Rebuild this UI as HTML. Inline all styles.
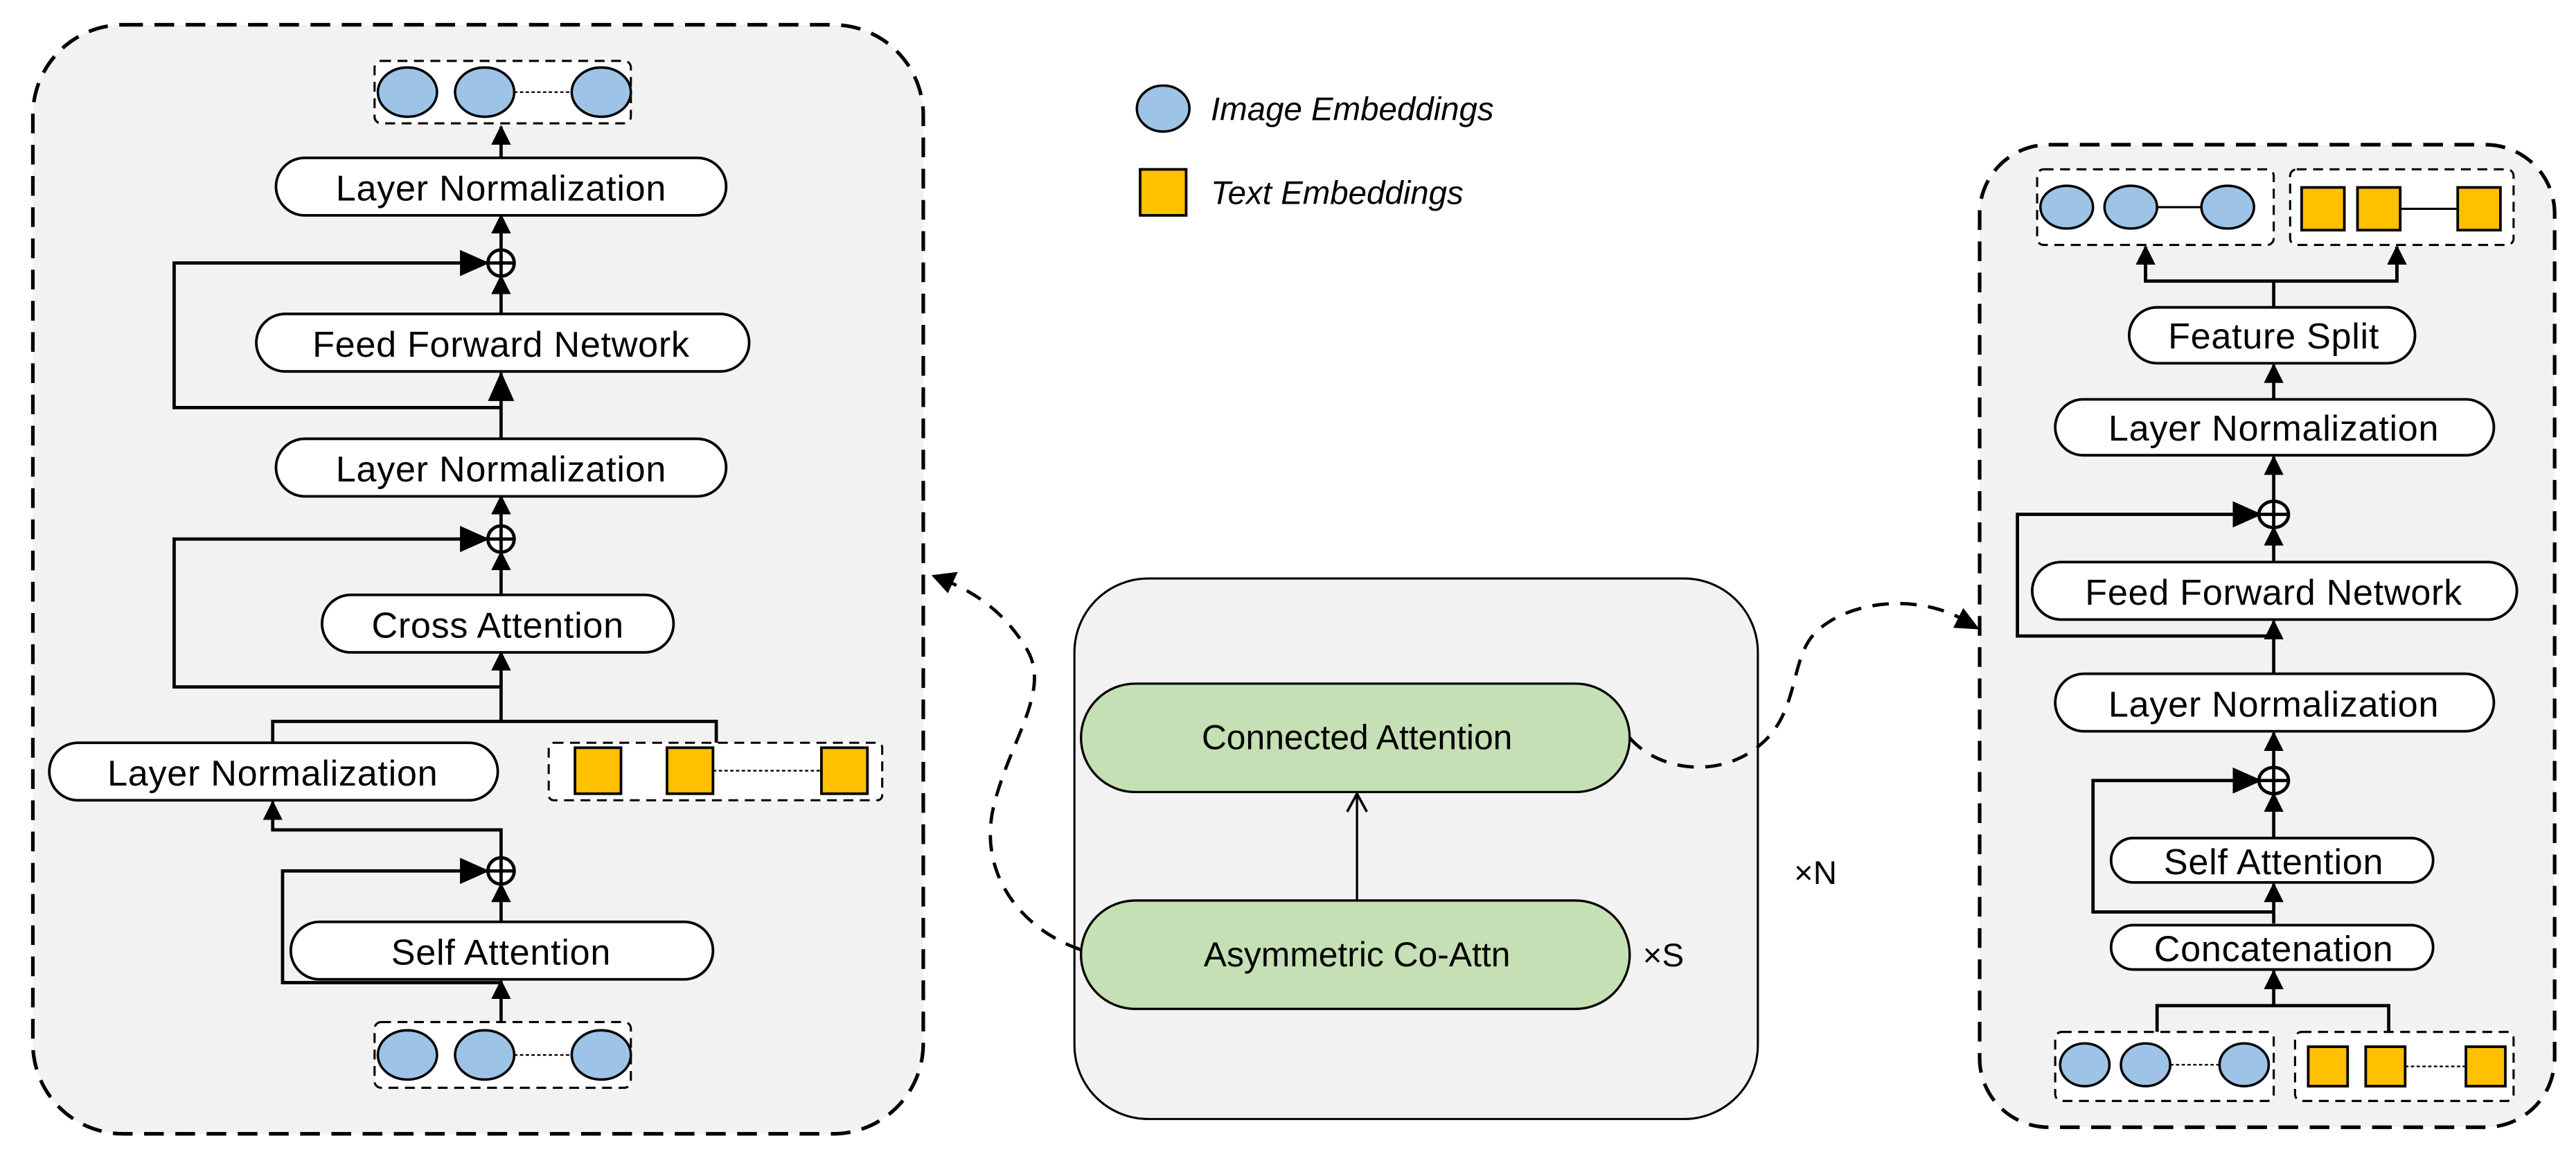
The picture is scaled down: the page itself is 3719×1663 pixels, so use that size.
<!DOCTYPE html>
<html><head><meta charset="utf-8"><style>
html,body{margin:0;padding:0;background:#fff;width:3719px;height:1663px;overflow:hidden}
svg{display:block}
text{font-family:"Liberation Sans",Arial,sans-serif;fill:#000}
</style></head><body>
<svg width="3719" height="1663" viewBox="0 0 1568 701" xmlns="http://www.w3.org/2000/svg">
<defs>
<marker id="ah" markerWidth="12" markerHeight="12" refX="11" refY="6" orient="auto" markerUnits="userSpaceOnUse"><path d="M0,0 L12,6 L0,12 z" fill="#000"/></marker>
<marker id="ahb" markerWidth="18" markerHeight="16" refX="17" refY="8" orient="auto" markerUnits="userSpaceOnUse"><path d="M0,0 L18,8 L0,16 z" fill="#000"/></marker>
<marker id="aho" markerWidth="14" markerHeight="14" refX="12" refY="7" orient="auto" markerUnits="userSpaceOnUse"><path d="M1,1 L12,7 L1,13" fill="none" stroke="#000" stroke-width="1.5"/></marker>
</defs>
<g stroke="#000" fill="none">
<rect x="20" y="15" width="542" height="675" rx="55" fill="#f2f2f2" stroke-width="2.2" stroke-dasharray="12,7"/>
<rect x="228" y="37" width="156" height="38" rx="4" fill="#fff" stroke-width="1.3" stroke-dasharray="6,4"/>
<g fill="#9dc3e6" stroke-width="1.5"><ellipse cx="248" cy="56" rx="18" ry="15"/><ellipse cx="295" cy="56" rx="18" ry="15"/><ellipse cx="366" cy="56" rx="18" ry="15"/></g>
<line x1="313" y1="56" x2="348" y2="56" stroke-width="1" stroke-dasharray="2,1.5"/>
<g stroke-width="2">
<line x1="305" y1="96" x2="305" y2="77" marker-end="url(#ah)"/>
<line x1="305" y1="152" x2="305" y2="131" marker-end="url(#ah)"/>
<line x1="305" y1="191" x2="305" y2="168" marker-end="url(#ah)"/>
<polyline points="305,248 106,248 106,160 297,160" marker-end="url(#ahb)"/>
<line x1="305" y1="267" x2="305" y2="227" marker-end="url(#ahb)"/>
<line x1="305" y1="320" x2="305" y2="302" marker-end="url(#ah)"/>
<line x1="305" y1="362" x2="305" y2="336" marker-end="url(#ah)"/>
<polyline points="305,418 106,418 106,328 297,328" marker-end="url(#ahb)"/>
<line x1="305" y1="439" x2="305" y2="397" marker-end="url(#ah)"/>
<polyline points="166,452 166,439 436,439 436,452"/>
<polyline points="305,522 305,505 166,505 166,488" marker-end="url(#ah)"/>
<polyline points="305,598 172,598 172,530 297,530" marker-end="url(#ahb)"/>
<line x1="305" y1="561" x2="305" y2="538" marker-end="url(#ah)"/>
<line x1="305" y1="622" x2="305" y2="597" marker-end="url(#ah)"/>
</g>
<g stroke-width="2" fill="#fff">
<circle cx="305" cy="160" r="8"/><circle cx="305" cy="328" r="8"/><circle cx="305" cy="530" r="8"/>
</g>
<g stroke-width="2"><path d="M297,160h16M305,152v16M297,328h16M305,320v16M297,530h16M305,522v16"/></g>
<g fill="#fff" stroke-width="1.6">
<rect x="168" y="96" width="274" height="35" rx="17.5"/>
<rect x="156" y="191" width="300" height="35" rx="17.5"/>
<rect x="168" y="267" width="274" height="35" rx="17.5"/>
<rect x="196" y="362" width="214" height="35" rx="17.5"/>
<rect x="30" y="452" width="273" height="35" rx="17.5"/>
<rect x="177" y="561" width="257" height="35" rx="17.5"/>
</g>
<rect x="334" y="452" width="203" height="35" rx="3" fill="#fff" stroke-width="1.3" stroke-dasharray="6,4"/>
<g fill="#ffc000" stroke-width="1.6"><rect x="350" y="455" width="28" height="28"/><rect x="406" y="455" width="28" height="28"/><rect x="500" y="455" width="28" height="28"/></g>
<line x1="434" y1="469" x2="500" y2="469" stroke-width="1" stroke-dasharray="2,1.5"/>
<rect x="228" y="622" width="156" height="40" rx="4" fill="#fff" stroke-width="1.3" stroke-dasharray="6,4"/>
<g fill="#9dc3e6" stroke-width="1.5"><ellipse cx="248" cy="642" rx="18" ry="15"/><ellipse cx="295" cy="642" rx="18" ry="15"/><ellipse cx="366" cy="642" rx="18" ry="15"/></g>
<line x1="313" y1="642" x2="348" y2="642" stroke-width="1" stroke-dasharray="2,1.5"/>

<rect x="654" y="352" width="416" height="329" rx="45" fill="#f2f2f2" stroke-width="1.3"/>
<g fill="#c5e0b4" stroke-width="1.4">
<rect x="658" y="416" width="334" height="66" rx="33"/>
<rect x="658" y="548" width="334" height="66" rx="33"/>
</g>
<line x1="826" y1="548" x2="826" y2="483" stroke-width="1.4" marker-end="url(#aho)"/>
<path d="M658,578 C620,565 595,530 605,490 C615,450 640,420 625,395 C610,370 590,358 567,350" stroke-width="2" stroke-dasharray="10,7"/>
<path d="M567,350 l16,-2 l-6,13 z" fill="#000" stroke="none"/>
<path d="M992,449 C1010,470 1050,475 1075,450 C1095,430 1090,400 1105,385 C1125,365 1170,360 1200,380" stroke-width="2" stroke-dasharray="10,7"/>
<path d="M1205,383 l-16,-1 l6,-12 z" fill="#000" stroke="none"/>

<ellipse cx="708" cy="66" rx="16" ry="14" fill="#9dc3e6" stroke-width="1.5"/>
<rect x="694" y="103" width="28" height="28" fill="#ffc000" stroke-width="1.6"/>

<rect x="1205" y="88" width="350" height="598" rx="42" fill="#f2f2f2" stroke-width="2.2" stroke-dasharray="12,7"/>
<rect x="1240" y="103" width="144" height="46" rx="4" fill="#fff" stroke-width="1.3" stroke-dasharray="6,4"/>
<g fill="#9dc3e6" stroke-width="1.5"><ellipse cx="1258" cy="126" rx="16" ry="13"/><ellipse cx="1297" cy="126" rx="16" ry="13"/><ellipse cx="1356" cy="126" rx="16" ry="13"/></g>
<line x1="1313" y1="126" x2="1340" y2="126" stroke-width="1.3"/>
<rect x="1394" y="103" width="136" height="46" rx="4" fill="#fff" stroke-width="1.3" stroke-dasharray="6,4"/>
<g fill="#ffc000" stroke-width="1.6"><rect x="1401" y="114" width="26" height="26"/><rect x="1435" y="114" width="26" height="26"/><rect x="1496" y="114" width="26" height="26"/></g>
<line x1="1461" y1="127" x2="1496" y2="127" stroke-width="1.3"/>
<g stroke-width="2">
<line x1="1384" y1="187" x2="1384" y2="171"/>
<polyline points="1306,162 1306,171 1459,171 1459,162"/>
<line x1="1306" y1="171" x2="1306" y2="150" marker-end="url(#ah)"/>
<line x1="1459" y1="171" x2="1459" y2="150" marker-end="url(#ah)"/>
<line x1="1384" y1="243" x2="1384" y2="222" marker-end="url(#ah)"/>
<line x1="1384" y1="305" x2="1384" y2="278" marker-end="url(#ah)"/>
<line x1="1384" y1="342" x2="1384" y2="321" marker-end="url(#ah)"/>
<polyline points="1384,387 1228,387 1228,313 1376,313" marker-end="url(#ahb)"/>
<line x1="1384" y1="410" x2="1384" y2="378" marker-end="url(#ah)"/>
<line x1="1384" y1="467" x2="1384" y2="446" marker-end="url(#ah)"/>
<line x1="1384" y1="510" x2="1384" y2="483" marker-end="url(#ah)"/>
<polyline points="1384,555 1274,555 1274,475 1376,475" marker-end="url(#ahb)"/>
<line x1="1384" y1="562" x2="1384" y2="538" marker-end="url(#ah)"/>
<polyline points="1313,628 1313,612 1454,612 1454,628"/>
<line x1="1384" y1="612" x2="1384" y2="591" marker-end="url(#ah)"/>
</g>
<g stroke-width="2" fill="#fff"><ellipse cx="1384" cy="313" rx="9" ry="8"/><ellipse cx="1384" cy="475" rx="9" ry="8"/></g>
<path d="M1375,313h18M1384,305v16M1375,475h18M1384,467v16" stroke-width="2"/>
<g fill="#fff" stroke-width="1.6">
<rect x="1296" y="187" width="174" height="34" rx="17"/>
<rect x="1251" y="243" width="267" height="34" rx="17"/>
<rect x="1237" y="342" width="295" height="35" rx="17.5"/>
<rect x="1251" y="410" width="267" height="35" rx="17.5"/>
<rect x="1285" y="510" width="196" height="27" rx="13.5"/>
<rect x="1285" y="563" width="196" height="27" rx="13.5"/>
</g>
<rect x="1251" y="628" width="133" height="42" rx="4" fill="#fff" stroke-width="1.3" stroke-dasharray="6,4"/>
<g fill="#9dc3e6" stroke-width="1.5"><ellipse cx="1269" cy="648" rx="15" ry="13"/><ellipse cx="1306" cy="648" rx="15" ry="13"/><ellipse cx="1366" cy="648" rx="15" ry="13"/></g>
<line x1="1321" y1="648" x2="1351" y2="648" stroke-width="1" stroke-dasharray="2,1.5"/>
<rect x="1397" y="628" width="133" height="42" rx="4" fill="#fff" stroke-width="1.3" stroke-dasharray="6,4"/>
<g fill="#ffc000" stroke-width="1.6"><rect x="1405" y="637" width="24" height="24"/><rect x="1440" y="637" width="24" height="24"/><rect x="1501" y="637" width="24" height="24"/></g>
<line x1="1464" y1="649" x2="1501" y2="649" stroke-width="1" stroke-dasharray="2,1.5"/>
</g>

<g font-size="22" text-anchor="middle" letter-spacing="0.3">
<text x="305" y="122">Layer Normalization</text>
<text x="305" y="217">Feed Forward Network</text>
<text x="305" y="293">Layer Normalization</text>
<text x="303" y="388">Cross Attention</text>
<text x="166" y="478">Layer Normalization</text>
<text x="305" y="587">Self Attention</text>
<text x="1384" y="212">Feature Split</text>
<text x="1384" y="268">Layer Normalization</text>
<text x="1384" y="368">Feed Forward Network</text>
<text x="1384" y="436">Layer Normalization</text>
<text x="1384" y="532">Self Attention</text>
<text x="1384" y="585">Concatenation</text>
</g>
<g font-size="21" text-anchor="middle">
<text x="826" y="456">Connected Attention</text>
<text x="826" y="588">Asymmetric Co-Attn</text>
</g>
<g font-size="20">
<text x="1000" y="588">×S</text>
<text x="1092" y="538">×N</text>
<text x="737" y="73" font-style="italic">Image Embeddings</text>
<text x="737" y="124" font-style="italic">Text Embeddings</text>
</g>
</svg>
</body></html>
